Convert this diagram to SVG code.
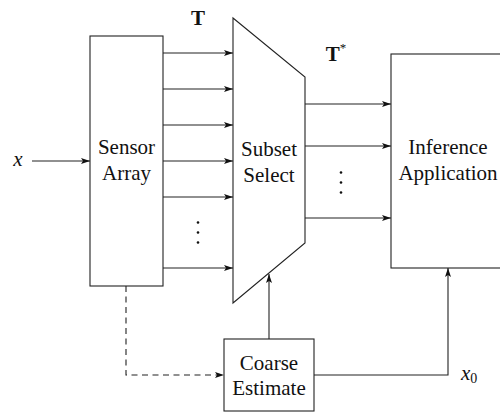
<svg xmlns="http://www.w3.org/2000/svg" width="500" height="412" viewBox="0 0 500 412">
<style>
.box{fill:#fff;stroke:#222;stroke-width:1.1}
.ln{fill:none;stroke:#222;stroke-width:1.1;marker-end:url(#ah)}
.dash{stroke-dasharray:6,4.5}
.lbl{font-family:"Liberation Serif","Times New Roman",serif;font-size:21px;fill:#111;text-anchor:middle}
.it{font-style:italic}
.bf{font-weight:bold}
.dot{fill:#111}
</style>
<defs>
<marker id="ah" markerUnits="userSpaceOnUse" markerWidth="10" markerHeight="8" refX="9" refY="3" orient="auto">
<path d="M0,0 L9,3 L0,6 L2,3 Z" fill="#111"/>
</marker>
</defs>
<g id="connectors">
<line class="ln" x1="32" y1="161" x2="90" y2="161"/>
<line class="ln" x1="163" y1="53" x2="233" y2="53"/>
<line class="ln" x1="163" y1="89" x2="233" y2="89"/>
<line class="ln" x1="163" y1="125" x2="233" y2="125"/>
<line class="ln" x1="163" y1="161" x2="233" y2="161"/>
<line class="ln" x1="163" y1="197" x2="233" y2="197"/>
<line class="ln" x1="163" y1="268" x2="233" y2="268"/>
<line class="ln" x1="305" y1="104" x2="391" y2="104"/>
<line class="ln" x1="305" y1="146" x2="391" y2="146"/>
<line class="ln" x1="305" y1="218" x2="391" y2="218"/>
<line class="ln" x1="269" y1="339" x2="269" y2="274"/>
<polyline class="ln" points="314,375 448,375 448,268"/>
<polyline class="ln dash" points="126,286 126,375 224,375"/>
<circle class="dot" cx="198" cy="222.5" r="1.3"/>
<circle class="dot" cx="198" cy="232.5" r="1.3"/>
<circle class="dot" cx="198" cy="242.5" r="1.3"/>
<circle class="dot" cx="341" cy="172.5" r="1.3"/>
<circle class="dot" cx="341" cy="182.5" r="1.3"/>
<circle class="dot" cx="341" cy="192.5" r="1.3"/>
<text class="lbl bf" x="198" y="25" font-size="19">T</text>
<text class="lbl bf" x="336" y="61" font-size="19">T<tspan font-weight="normal" font-size="13" dy="-9">*</tspan></text>
<text class="lbl it" x="18" y="166">x</text>
<text class="lbl it" x="461" y="380" text-anchor="start" style="text-anchor:start">x<tspan font-style="normal" font-size="14" dy="3">0</tspan></text>
</g>
<g id="sensor-array">
<rect class="box" x="90" y="36" width="73" height="250"/>
<text class="lbl" x="126.5" y="154">Sensor</text>
<text class="lbl" x="126.5" y="180">Array</text>
</g>
<g id="subset-select">
<polygon class="box" points="233,18 305,77 305,243 233,303"/>
<text class="lbl" x="269" y="156">Subset</text>
<text class="lbl" x="269" y="182">Select</text>
</g>
<g id="inference-application">
<rect class="box" x="391" y="54" width="130" height="214"/>
<text class="lbl" x="448" y="154">Inference</text>
<text class="lbl" x="448" y="180">Application</text>
</g>
<g id="coarse-estimate">
<rect class="box" x="224" y="339" width="90" height="72"/>
<text class="lbl" x="269" y="370">Coarse</text>
<text class="lbl" x="269" y="395">Estimate</text>
</g>
</svg>
